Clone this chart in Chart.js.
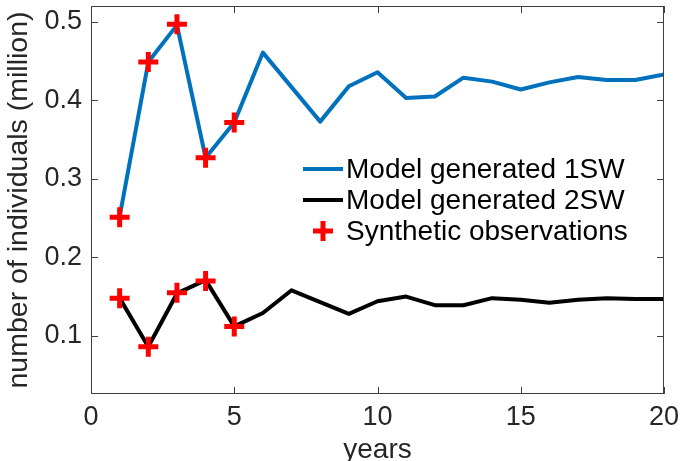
<!DOCTYPE html>
<html>
<head>
<meta charset="utf-8">
<script src="https://cdn.jsdelivr.net/npm/chart.js@4/dist/chart.umd.min.js"></script>
<style>
  html, body { margin: 0; padding: 0; background: #fff; }
  #wrap { width: 680px; height: 461px; }
</style>
</head>
<body>
<div id="wrap"><canvas id="chart"></canvas></div>
<script>
// values (million individuals)
const years = [1, 2, 3, 4, 5, 6, 7, 8, 9, 10, 11, 12, 13, 14, 15, 16, 17, 18, 19, 20];
const model1SW = [0.252, 0.449, 0.496, 0.327, 0.372, 0.461, 0.417, 0.373, 0.418, 0.436,
                  0.403, 0.405, 0.429, 0.424, 0.414, 0.423, 0.430, 0.426, 0.426, 0.433];
const model2SW = [0.148, 0.086, 0.154, 0.171, 0.112, 0.129, 0.158, 0.143, 0.128, 0.144,
                  0.150, 0.139, 0.139, 0.148, 0.146, 0.142, 0.146, 0.148, 0.147, 0.147];
const obsYears = [1, 2, 3, 4, 5];
const obs1SW = [0.251, 0.449, 0.497, 0.327, 0.372];
const obs2SW = [0.148, 0.086, 0.155, 0.170, 0.112];

const xTicks = [0, 5, 10, 15, 20];
const yTicks = [0.1, 0.2, 0.3, 0.4, 0.5];

const BLUE = '#0072BD';
const FONT = "'Liberation Sans', Arial, Helvetica, sans-serif";
const AXIS = '#404040';

const pts = (xs, ys) => xs.map((x, i) => ({ x, y: ys[i] }));

// box + inward ticks on all four sides (MATLAB style)
const boxPlugin = {
  id: 'box',
  afterDatasetsDraw(chart) {
    const { ctx, chartArea: a, scales: { x, y } } = chart;
    const t = 7;
    ctx.save();
    ctx.strokeStyle = AXIS;
    ctx.lineWidth = 1;
    ctx.strokeRect(Math.round(a.left) + 0.5, Math.round(a.top) + 0.5,
                   Math.round(a.right - a.left) - 1, Math.round(a.bottom - a.top) - 1);
    ctx.beginPath();
    xTicks.forEach(v => {
      const px = Math.round(x.getPixelForValue(v)) + 0.5;
      ctx.moveTo(px, a.bottom); ctx.lineTo(px, a.bottom - t);
      ctx.moveTo(px, a.top); ctx.lineTo(px, a.top + t);
    });
    yTicks.forEach(v => {
      const py = Math.round(y.getPixelForValue(v)) + 0.5;
      ctx.moveTo(a.left, py); ctx.lineTo(a.left + t, py);
      ctx.moveTo(a.right, py); ctx.lineTo(a.right - t, py);
    });
    ctx.stroke();
    ctx.restore();
  }
};

// legend inside the plot
const legendPlugin = {
  id: 'insideLegend',
  afterDraw(chart) {
    const { ctx } = chart;
    const items = chart.data.datasets.slice().sort((a, b) => a.legendIdx - b.legendIdx);
    const x0 = 303, x1 = 343, tx = 346;
    const rows = [169, 200, 231];
    ctx.save();
    ctx.font = '28px ' + FONT;
    ctx.textBaseline = 'middle';
    ctx.fillStyle = '#000';
    items.forEach((ds, i) => {
      const y = rows[i];
      ctx.strokeStyle = ds.borderColor;
      ctx.lineWidth = ds.borderWidth;
      ctx.beginPath();
      if (ds.showLine === false) {
        const cx = (x0 + x1) / 2;
        ctx.moveTo(cx - ds.pointRadius, y); ctx.lineTo(cx + ds.pointRadius, y);
        ctx.moveTo(cx, y - ds.pointRadius); ctx.lineTo(cx, y + ds.pointRadius);
      } else {
        ctx.moveTo(x0, y); ctx.lineTo(x1, y);
      }
      ctx.stroke();
      ctx.fillText(ds.label, tx, y + 1);
    });
    ctx.restore();
  }
};

// drop the half-label padding Chart.js reserves at the axis ends
const noPad = s => { s.paddingLeft = 0; s.paddingRight = 0; s.paddingTop = 0; s.paddingBottom = 0; };

new Chart(document.getElementById('chart'), {
  type: 'line',
  data: {
    datasets: [
      {
        label: 'Synthetic observations',
        legendIdx: 2,
        data: pts(obsYears, obs1SW).concat(pts(obsYears, obs2SW)),
        showLine: false,
        pointStyle: 'cross',
        pointRadius: 10,
        pointHoverRadius: 10,
        borderColor: '#ff0000',
        backgroundColor: '#ff0000',
        borderWidth: 5,
        order: 0
      },
      {
        label: 'Model generated 1SW',
        legendIdx: 0,
        data: pts(years, model1SW),
        borderColor: BLUE,
        borderWidth: 4,
        pointRadius: 0,
        tension: 0,
        borderJoinStyle: 'round',
        order: 1
      },
      {
        label: 'Model generated 2SW',
        legendIdx: 1,
        data: pts(years, model2SW),
        borderColor: '#000000',
        borderWidth: 4,
        pointRadius: 0,
        tension: 0,
        borderJoinStyle: 'round',
        order: 1
      }
    ]
  },
  options: {
    responsive: true, maintainAspectRatio: false, animation: false,
    layout: { padding: { top: 6, right: 16, left: 0, bottom: 0 }, autoPadding: false },
    plugins: { legend: { display: false }, tooltip: { enabled: false } },
    scales: {
      x: {
        type: 'linear', min: 0, max: 20,
        grid: { display: false, drawTicks: false },
        border: { display: false },
        afterBuildTicks: s => { s.ticks = xTicks.map(v => ({ value: v })); },
        afterFit: s => { s.height = 67; noPad(s); },
        ticks: { color: '#262626', padding: 7, maxRotation: 0, font: { family: FONT, size: 27 } },
        title: { display: true, text: 'years', color: '#262626', padding: 0,
                 font: { family: FONT, size: 28, lineHeight: 0.75 } }
      },
      y: {
        type: 'linear', min: 0.0258, max: 0.5204,
        grid: { display: false, drawTicks: false },
        border: { display: false },
        afterBuildTicks: s => { s.ticks = yTicks.map(v => ({ value: v })); },
        afterFit: s => { s.width = 91; noPad(s); },
        ticks: { color: '#262626', padding: 9, font: { family: FONT, size: 27 },
                 callback: v => v.toFixed(1) },
        title: { display: true, text: 'number of individuals (million)', color: '#262626',
                 padding: { top: 2, bottom: 0 }, font: { family: FONT, size: 28.5 } }
      }
    }
  },
  plugins: [boxPlugin, legendPlugin]
});
</script>
</body>
</html>
